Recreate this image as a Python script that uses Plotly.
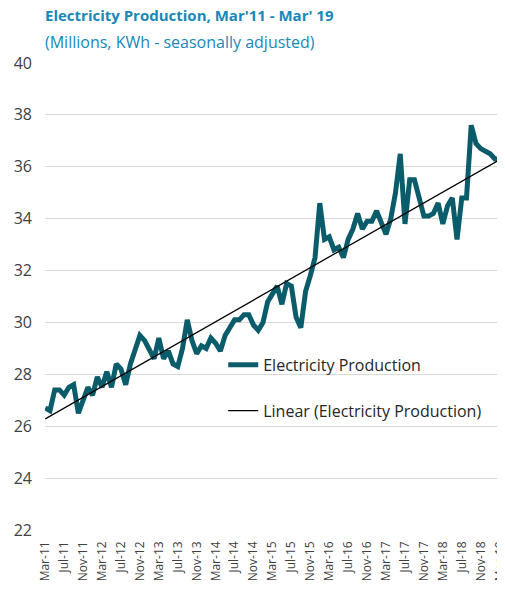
import numpy as np
import plotly.graph_objects as go

months = ["Mar", "Apr", "May", "Jun", "Jul", "Aug", "Sep", "Oct", "Nov", "Dec", "Jan", "Feb"]
labels = []
for k in range(97):
    m = months[k % 12]
    yr = 11 + (k + 2) // 12
    labels.append(f"{m}-{yr}")

production = [
    26.7, 26.6, 27.4, 27.4, 27.2, 27.5, 27.6, 26.5, 27.0, 27.5, 27.2, 27.9,
    27.5, 28.1, 27.5, 28.4, 28.2, 27.6, 28.4, 28.9, 29.5, 29.3, 28.9, 28.6,
    29.4, 28.6, 28.9, 28.4, 28.3, 29.0, 30.1, 29.3, 28.8, 29.1, 29.0, 29.4,
    29.2, 28.9, 29.5, 29.8, 30.1, 30.1, 30.3, 30.3, 29.9, 29.7, 30.0, 30.8,
    31.1, 31.4, 30.7, 31.5, 31.4, 30.2, 29.8, 31.2, 31.8, 32.5, 34.6, 33.2,
    33.3, 32.8, 32.9, 32.5, 33.2, 33.6, 34.2, 33.6, 33.9, 33.9, 34.3, 33.9,
    33.4, 34.0, 35.0, 36.5, 33.8, 35.5, 35.5, 34.8, 34.1, 34.1, 34.2, 34.6,
    33.8, 34.5, 34.8, 33.2, 34.8, 34.8, 37.6, 36.9, 36.7, 36.6, 36.5, 36.3,
    36.3,
]

idx = np.arange(len(production))
slope, intercept = np.polyfit(idx, production, 1)
trend = intercept + slope * idx

tick_labels = labels[::4]

fig = go.Figure()
fig.add_trace(go.Scatter(
    x=labels, y=production, mode="lines", name="Electricity Production",
    line=dict(color="#0b5c6b", width=5), legendgroup="a",
))
fig.add_trace(go.Scatter(
    x=labels, y=trend, mode="lines", name="Linear (Electricity Production)",
    line=dict(color="#000000", width=1.3), legendgroup="b",
))

# page body has an 8px margin, so the figure is sized to fit the window
fig.update_layout(
    width=497, height=585,
    margin=dict(l=37, r=3, t=55, b=63, autoexpand=False),
    paper_bgcolor="white", plot_bgcolor="white",
    font=dict(family="Open Sans, Noto Sans, sans-serif", color="#404040"),
    showlegend=True,
    legend=dict(
        x=0.39, y=0.39, xanchor="left", yanchor="top",
        font=dict(size=16, color="#262626"),
        bgcolor="rgba(0,0,0,0)", tracegroupgap=22,
        traceorder="grouped",
    ),
    annotations=[
        dict(text="<b>Electricity Production, Mar'11 - Mar' 19</b>",
             xref="paper", yref="paper", x=-0.004, y=1.0, yshift=48,
             xanchor="left", yanchor="middle", showarrow=False,
             font=dict(size=15, color="#1788b8")),
        dict(text="(Millions, KWh - seasonally adjusted)",
             xref="paper", yref="paper", x=-0.004, y=1.0, yshift=21,
             xanchor="left", yanchor="middle", showarrow=False,
             font=dict(size=16, color="#1788b8")),
    ],
)
fig.update_xaxes(
    type="category", range=[-0.05, 96.5], automargin=False,
    tickmode="array", tickvals=tick_labels, ticktext=tick_labels,
    tickangle=-90, tickfont=dict(size=12, color="#404040"),
    showgrid=False, showline=False, ticks="", ticklabelstandoff=8,
    ticklabeloverflow="allow",
)
fig.update_yaxes(
    range=[22, 40], dtick=2, tick0=22, automargin=False,
    showgrid=True, gridcolor="#d9d9d9", gridwidth=1,
    zeroline=False, showline=False, ticks="", ticklabelstandoff=12,
    tickfont=dict(size=16, color="#404040"),
)
fig.write_html("out.html")
